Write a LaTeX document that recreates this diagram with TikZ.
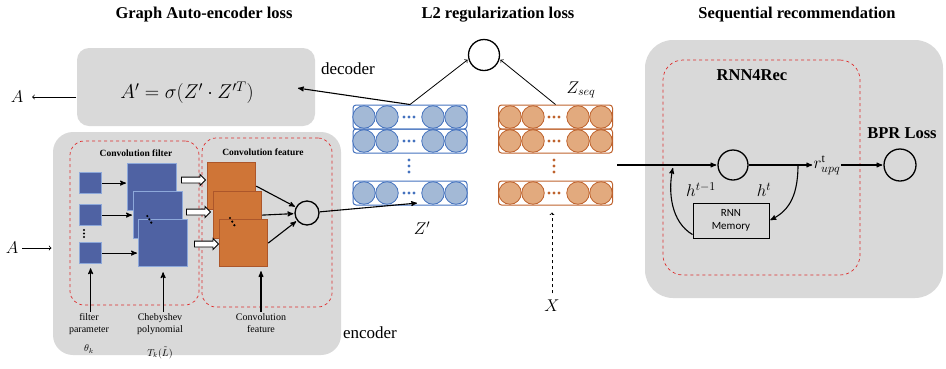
\RequirePackage{fix-cm}
\documentclass[tikz,border=0pt]{standalone}
\usepackage{amsmath}
\usepackage{fontspec}
\setmainfont{Liberation Serif}
\newfontfamily\memfont{Carlito}
\usepackage{tikz}
\usetikzlibrary{positioning,shapes.geometric,shapes.arrows,arrows}

\definecolor{boxgray}{RGB}{217,217,217}
\definecolor{redline}{RGB}{222,45,45}
\definecolor{sqblue}{RGB}{79,98,163}
\definecolor{sqblueedge}{RGB}{141,168,218}
\definecolor{sqorange}{RGB}{207,117,55}
\definecolor{sqorangeedge}{RGB}{172,86,42}
\definecolor{cblue}{RGB}{163,185,214}
\definecolor{cblueedge}{RGB}{68,114,190}
\definecolor{corange}{RGB}{226,170,126}
\definecolor{corangeedge}{RGB}{190,98,45}

\begin{document}
\begin{tikzpicture}[%
    x=1pt, y=-1pt,
    >=stealth', shorten >=1pt,
    line width=1.1pt, align=center,
    headline/.style={font=\fontsize{16.5}{19}\selectfont\bfseries},
    wordlabel/.style={font=\fontsize{17}{19}\selectfont},
    mathlabel/.style={font=\fontsize{17}{20}\selectfont},
    smalltext/.style={font=\fontsize{10}{12}\selectfont, inner sep=1pt},
    boxtitle/.style={font=\fontsize{9.5}{11}\selectfont\bfseries},
    graybox/.style={rectangle, fill=boxgray, rounded corners=#1},
    redbox/.style={rectangle, draw=redline, dashed, line width=0.7pt, rounded corners=#1},
    smallsq/.style={rectangle, fill=sqblue, draw=sqblueedge, line width=1.2pt,
      minimum width=22pt, minimum height=21pt, inner sep=0pt, anchor=north west},
    bluesq/.style={rectangle, fill=sqblue, draw=sqblueedge, line width=1.2pt,
      minimum width=49pt, minimum height=47pt, inner sep=0pt, anchor=north west},
    orangesq/.style={rectangle, fill=sqorange, draw=sqorangeedge, line width=1.2pt,
      minimum width=48pt, minimum height=47pt, inner sep=0pt, anchor=north west},
    hollow/.style={single arrow, draw, fill=white, line width=0.9pt, inner sep=2.5pt,
      minimum height=24pt, single arrow head extend=2.5pt},
    op/.style={circle, draw, line width=1.3pt, minimum size=#1, inner sep=0pt},
    vecrow/.style={rectangle, draw=#1, line width=1pt, rounded corners=3pt,
      minimum width=114pt, minimum height=24pt, inner sep=0pt},
    blueball/.style={circle, fill=cblue, draw=cblueedge, line width=0.8pt,
      minimum size=22.5pt, inner sep=0pt},
    orangeball/.style={circle, fill=corange, draw=corangeedge, line width=0.8pt,
      minimum size=22.5pt, inner sep=0pt},
    memory/.style={rectangle, draw, line width=1pt, minimum width=76pt,
      minimum height=35pt, font=\memfont\fontsize{11}{12.5}\selectfont}
  ]
    \useasboundingbox (0,0) rectangle (946,368);

    % titles
    \node[headline] (t1) at (204,15) {Graph Auto-encoder loss};
    \node[headline] (t2) at (498,15) {L2 regularization loss};
    \node[headline] (t3) at (797,15) {Sequential recommendation};

    % graph auto-encoder
    \node[graybox=12pt, minimum width=238pt, minimum height=78pt] (decbox) at (196,87) {};
    \node[font=\fontsize{20}{24}\selectfont] (dec) at (187,93) {$A' = \sigma(Z' \cdot Z'^{T})$};
    \node[mathlabel] (aout) at (17,97) {$A$};
    \node[wordlabel] (declab) at (348,69) {decoder};

    \node[graybox=20pt, minimum width=288pt, minimum height=223pt] (encbox) at (197,243.5) {};
    \node[mathlabel] (ain) at (12,248) {$A$};
    \node[wordlabel] (enclab) at (370,333) {encoder};
    \node[redbox=14pt, minimum width=129pt, minimum height=164pt] (filt) at (134.5,223) {};
    \node[redbox=14pt, minimum width=130pt, minimum height=169pt] (feat) at (267,222.5) {};
    \node[boxtitle] (filtlab) at (136,153) {Convolution filter};
    \node[boxtitle] (featlab) at (263,152) {Convolution feature};

    \node[smallsq] (s1) at (79,172) {};
    \node[smallsq] (s2) at (79,204) {};
    \node[smallsq] (s3) at (79,242) {};
    \node[bluesq] (b1) at (127,163) {};
    \node[bluesq] (b2) at (133,191) {};
    \node[bluesq] (b3) at (138,219) {};
    \node[orangesq] (o1) at (207,162) {};
    \node[orangesq] (o2) at (213,191) {};
    \node[orangesq] (o3) at (219,219) {};
    \foreach \y in {230,233.5,237} \fill (84,\y) circle (1.2pt);
    \foreach \x/\y in {147.3/216,149.3/219.3,151.3/222.6} \fill (\x,\y) circle (1.2pt);
    \foreach \x/\y in {230/218,232.2/221.6,234.4/225.2} \fill (\x,\y) circle (1.2pt);

    \node[hollow] (h1) at (192,180) {};
    \node[hollow] (h2) at (197,212) {};
    \node[hollow] (h3) at (205,244) {};
    \node[op=24pt] (enc) at (307,213) {};

    \node[smalltext] (fp) at (89,324) {filter\\parameter};
    \node[smalltext] (theta) at (89,349) {$\theta_k$};
    \node[smalltext] (cp) at (160,324) {Chebyshev\\polynomial};
    \node[smalltext] (tk) at (160,353) {$T_k(\tilde{L})$};
    \node[smalltext] (cf) at (261,323) {Convolution\\feature};

    \path[->] (s1) edge (s1 -| b1.west)
              (s2) edge (s2 -| b2.west)
              (s3) edge (s3 -| b3.west)
              (o1.east) edge (enc)
              (o2.east) edge (enc)
              (o3.east) edge (enc);
    \draw[->, shorten >=4pt] (fp.north -| s3.south) -- (s3.south);
    \draw[->, shorten >=5pt] (cp.north -| b3.south) -- (b3.south);
    \draw[->, shorten >=4pt] (cf.north) -- (cf.north |- o3.south);
    \draw[-to, line width=0.8pt, shorten >=5pt] (decbox.west |- aout) -- (aout);
    \draw[-to, line width=0.8pt] (ain) -- (encbox.west |- ain);

    % L2 regularization
    \node[op=31pt] (l2) at (484,55) {};
    \foreach \row/\y in {za/117, zb/141, zc/193} {
      \node[vecrow=cblueedge] (\row) at (410,\y) {};
      \foreach \x in {364,387,433,456}
        \node[blueball] (\row-\x) at (\x,\y) {};
      \foreach \x in {404,409,414}
        \fill[cblueedge] (\x,\y) circle (1.6pt);
    }
    \foreach \row/\y in {qa/117, qb/141, qc/193} {
      \node[vecrow=corangeedge] (\row) at (555.5,\y) {};
      \foreach \x in {510,533,578,601}
        \node[orangeball] (\row-\x) at (\x,\y) {};
      \foreach \x in {549,554,559}
        \fill[corangeedge] (\x,\y) circle (1.6pt);
    }
    \foreach \y in {160,166,172} {
      \fill[cblueedge] (409,\y) circle (1.6pt);
      \fill[corangeedge] (554,\y) circle (1.6pt);
    }
    \node[mathlabel] (zlab) at (422,228) {$Z'$};
    \node[mathlabel] (zseq) at (581,90) {$Z_{seq}$};
    \node[mathlabel] (xlab) at (552,306) {$X$};

    \coordinate (decin) at (297,88);
    \coordinate (zin) at (418,203);
    \draw[->] (za.north) -- (decin);
    \draw[-to, line width=0.8pt] (za.north) -- (l2.195);
    \draw[-to, line width=0.8pt] (qa.north) -- (l2.-15);
    \draw[->] (enc) -- (zin);
    \draw[-to, dashed, line width=0.8pt, shorten <=3pt, shorten >=7pt] (xlab) -- (xlab |- qc.south);

    % sequential recommendation
    \node[graybox=28pt, minimum width=298pt, minimum height=258pt] (seqbox) at (794,169) {};
    \node[redbox=20pt, minimum width=197pt, minimum height=215pt] (rnnbox) at (761.5,167.5) {};
    \node[headline] (rnnlab) at (752,75) {RNN4Rec};
    \node[headline] (bprlab) at (902,133) {BPR Loss};
    \node[op=30pt] (rc) at (733,165) {};
    \node[op=32pt] (bpr) at (900,165) {};
    \node[font=\fontsize{17}{19}\selectfont, inner sep=0pt] (r) at (827,165) {$r^{\mathrm{t}}_{upq}$};
    \node[memory] (mem) at (731,220.5) {RNN\\Memory};
    \node[font=\fontsize{17}{19}\selectfont] (hprev) at (701,190) {$h^{t-1}$};
    \node[font=\fontsize{17}{19}\selectfont] (hcur) at (764,190) {$h^{t}$};

    \coordinate (seqin) at (617,165);
    \coordinate (split) at (798,165);
    \coordinate (hin) at (673,167);
    \path[->] (seqin) edge (rc)
              (rc) edge (rc -| r.west)
              (r.east |- bpr) edge (bpr);
    \draw[->] (split) .. controls (798,200) and (786,212) .. (mem.east);
    \draw[->] (mem.200) .. controls (671,222) and (668,192) .. (hin);
  \end{tikzpicture}
\end{document}
